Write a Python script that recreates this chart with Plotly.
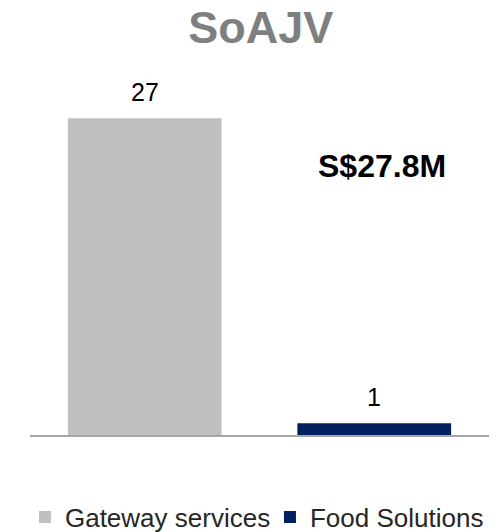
import plotly.graph_objects as go

categories = ["Gateway services", "Food Solutions"]
values = [27, 1]
colors = ["#BFBFBF", "#002060"]
total_label = "S$27.8M"
title_text = "SoAJV"

FONT = "Arial, Liberation Sans, sans-serif"

fig = go.Figure()

for name, value, color in zip(categories, values, colors):
    fig.add_trace(go.Bar(
        x=[name],
        y=[value],
        name=name,
        marker={"color": color, "line": {"width": 0}},
        legendwidth=200 if value == max(values) else 175,
        hoverinfo="skip"
    ))
    # value label above each bar
    fig.add_annotation(
        x=name,
        y=value,
        text=str(value),
        showarrow=False,
        yanchor="bottom",
        yshift=10,
        font={"family": FONT, "size": 25, "color": "#000000"}
    )

fig.add_annotation(
    text="<b>" + total_label + "</b>",
    xref="paper", yref="paper",
    x=0.766, y=0.764,
    xanchor="center", yanchor="middle",
    showarrow=False,
    font={"family": FONT, "size": 32, "color": "#000000"}
)

fig.update_layout(
    width=500,
    height=532,
    paper_bgcolor="white",
    plot_bgcolor="white",
    margin={"l": 30, "r": 11, "t": 83, "b": 97, "autoexpand": False},
    bargap=0.33,
    barmode="overlay",
    title={
        "text": "<b>" + title_text + "</b>",
        "x": 0.503,
        "xref": "paper",
        "y": 1 - 27 / 532,
        "yanchor": "middle",
        "font": {"family": FONT, "size": 45, "color": "#7F7F7F"}
    },
    font={"family": FONT, "color": "#000000"},
    legend={
        "orientation": "h",
        "x": -0.011,
        "xanchor": "left",
        "y": -0.233,
        "yanchor": "middle",
        "font": {"size": 26, "color": "#262626"},
        "itemwidth": 30
    },
    showlegend=True
)

fig.update_xaxes(
    showticklabels=False,
    showline=True,
    linecolor="#A6A6A6",
    linewidth=2,
    showgrid=False,
    ticks=""
)

fig.update_yaxes(
    range=[0, 30],
    visible=False,
    showgrid=False,
    zeroline=False
)

fig.write_html(
    "out.html",
    config={"displayModeBar": False},
    post_script="document.body.style.margin = '0';"
)
